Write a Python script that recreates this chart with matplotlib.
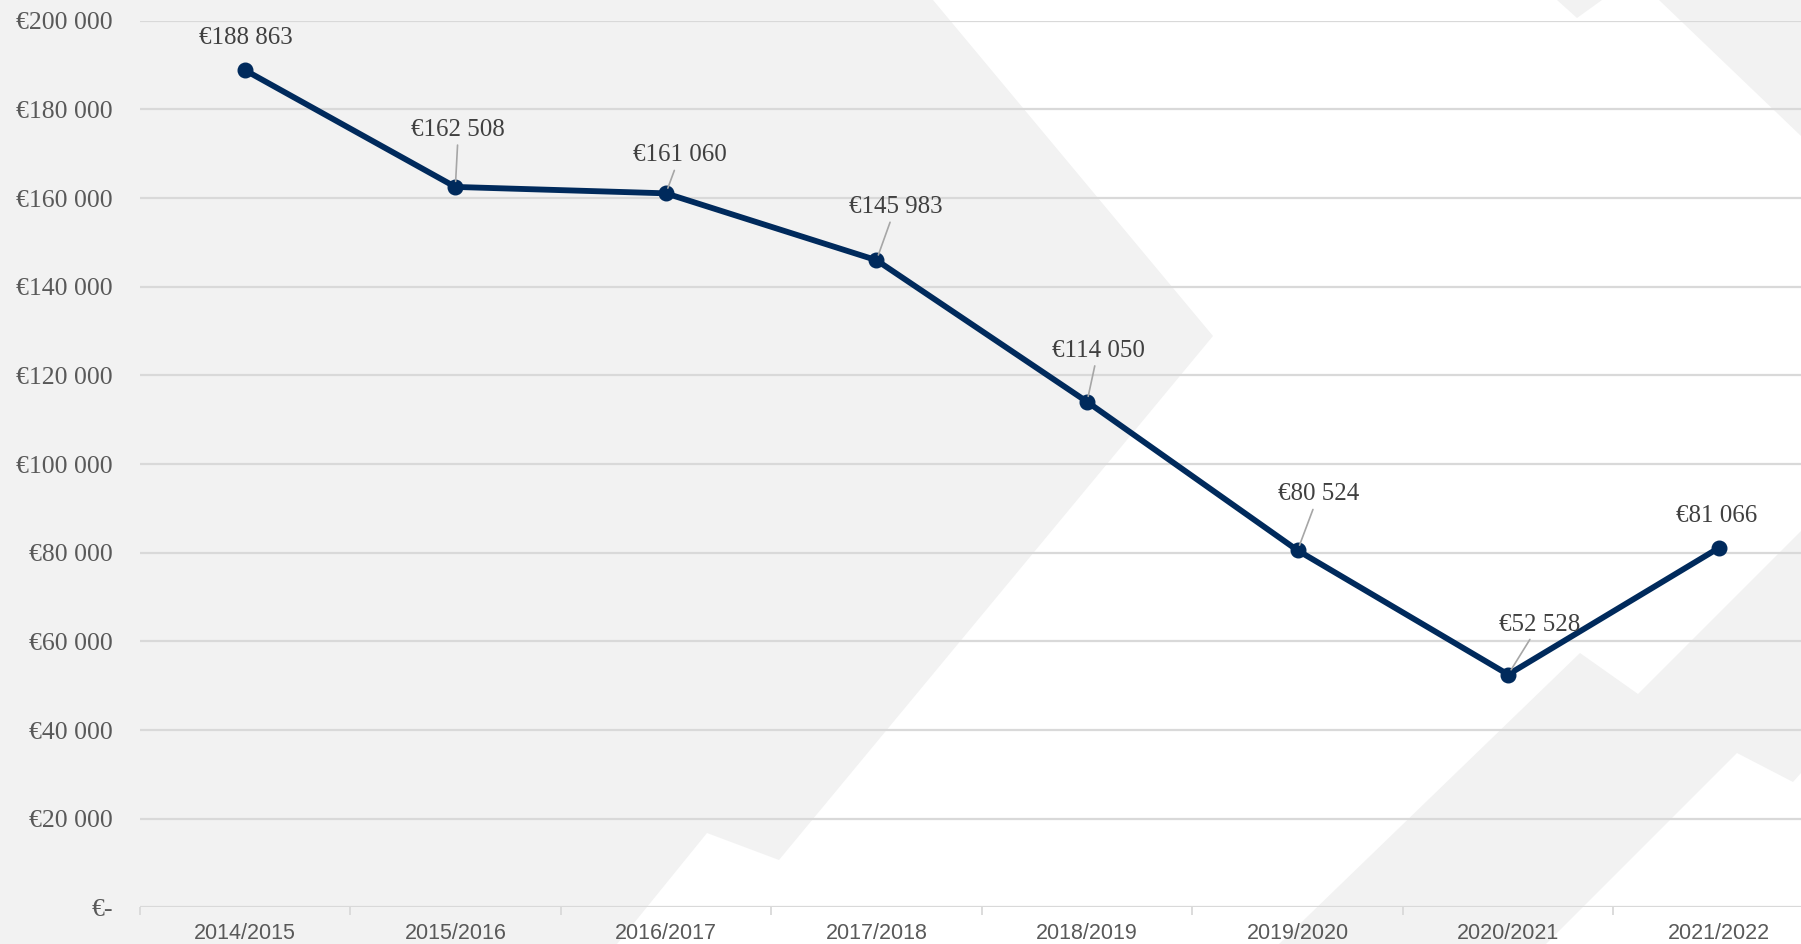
import matplotlib
matplotlib.use("Agg")
import matplotlib.pyplot as plt
from matplotlib.patches import Polygon
import numpy as np

# dados
seasons = ['2014/2015', '2015/2016', '2016/2017', '2017/2018',
           '2018/2019', '2019/2020', '2020/2021', '2021/2022']
values = [188863, 162508, 161060, 145983, 114050, 80524, 52528, 81066]
value_labels = ['€188 863', '€162 508', '€161 060', '€145 983',
                '€114 050', '€80 524', '€52 528', '€81 066']
y_ticks = [0, 20000, 40000, 60000, 80000, 100000, 120000, 140000, 160000, 180000, 200000]
y_tick_labels = ['€-', '€20 000', '€40 000', '€60 000', '€80 000', '€100 000',
                 '€120 000', '€140 000', '€160 000', '€180 000', '€200 000']

# deslocamento dos rótulos (pixels) e se levam linha de chamada
label_offsets = [(1, 32), (3, 57), (14, 38), (19, 53), (11, 51), (21, 56), (31, 50), (-2, 32)]
leader = [False, True, True, True, True, True, True, False]

W, H = 1801, 944
fig = plt.figure(figsize=(W / 100, H / 100), dpi=100, facecolor='white')

# fundo decorativo (formas cinzentas), em pixels da imagem
bg = fig.add_axes([0, 0, 1, 1], zorder=-1)
bg.set_xlim(0, W)
bg.set_ylim(H, 0)
bg.axis('off')
grey = '#f2f2f2'
shapes = [
    [(0, 0), (933, 0), (1213, 336), (779, 860), (707, 833), (617, 944), (0, 944)],
    [(1557, 0), (1577, 18), (1602, 0)],
    [(1659, 0), (1801, 136), (1801, 0)],
    [(1279, 944), (1580, 653), (1638, 694), (1801, 531), (1801, 773),
     (1793, 782), (1737, 753), (1546, 944)],
]
for s in shapes:
    bg.add_patch(Polygon(s, closed=True, facecolor=grey, edgecolor='none'))

# eixo principal (passa um pouco do limite direito da figura)
left, right = 139.5, 1824
bottom, top = 907.4, 20.7
ax = fig.add_axes([left / W, 1 - bottom / H, (right - left) / W, (bottom - top) / H])
ax.set_facecolor('none')

x = np.arange(len(values))
ax.plot(x, values, color='#002A5C', lw=4.2, marker='o', markersize=10.5,
        solid_capstyle='round', zorder=3)

ax.set_xlim(-0.5, len(values) - 0.5)
ax.set_ylim(0, 200000)

ax.set_yticks(y_ticks)
ax.set_yticklabels(y_tick_labels, family='Liberation Serif', fontsize=18.5, color='#595959')
ax.tick_params(axis='y', length=0, pad=19)

ax.set_xticks(x)
ax.set_xticklabels(seasons, family='Liberation Sans', fontsize=15.5, color='#595959')
ax.set_xticks(np.arange(len(values) + 1) - 0.5, minor=True)
ax.tick_params(axis='x', which='major', length=0, pad=11)
ax.tick_params(axis='x', which='minor', length=6, width=1.3, color='#d9d9d9')

ax.grid(axis='y', color='#d9d9d9', lw=1.6, zorder=0)
for sp in ax.spines.values():
    sp.set_visible(False)

for i, (v, txt) in enumerate(zip(values, value_labels)):
    dx, dy = label_offsets[i]
    arrow = dict(arrowstyle='-', color='#a6a6a6', lw=1.2, shrinkA=1, shrinkB=4) if leader[i] else None
    ax.annotate(txt, xy=(i, v), xytext=(dx, dy), textcoords='offset pixels',
                ha='center', va='center', family='Liberation Serif', fontsize=18,
                color='#404040', arrowprops=arrow, zorder=4)

fig.savefig('out.png', dpi=100)
